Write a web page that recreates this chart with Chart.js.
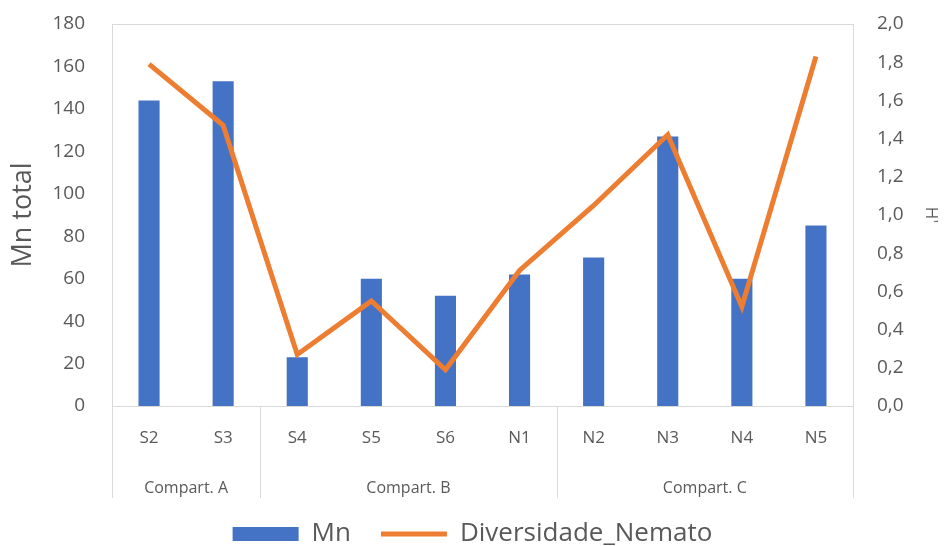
<!DOCTYPE html>
<html>
<head>
<meta charset="utf-8">
<script src="https://cdn.jsdelivr.net/npm/chart.js@4"></script>
<style>
  html, body { margin: 0; padding: 0; background: #fff; }
  #wrap { width: 945px; height: 546px; position: relative; }
</style>
</head>
<body>
<div id="wrap"><canvas id="mnChart"></canvas></div>
<script>
// Samples along the transect
const sampleLabels = ['S2', 'S3', 'S4', 'S5', 'S6', 'N1', 'N2', 'N3', 'N4', 'N5'];
// Compartments and how many samples each one covers
const compartLabels = ['Compart. A', 'Compart. B', 'Compart. C'];
const compartSizes = [2, 4, 4];
// Total manganese per sample
const mnValues = [144, 153, 23, 60, 52, 62, 70, 127, 60, 85];
// Nematode Shannon diversity (H')
const diversityValues = [1.79, 1.47, 0.27, 0.55, 0.19, 0.71, 1.05, 1.42, 0.52, 1.83];

const GRAY_TEXT = '#595959';
const GRAY_LINE = '#d9d9d9';
const FONT = '"Open Sans", sans-serif';

// Draws the plot frame plus the second row of x labels (compartments)
const compartAxis = {
  id: 'compartAxis',
  afterDraw(chart) {
    const { ctx, chartArea } = chart;
    const x = chart.scales.x;
    const step = x.getPixelForValue(1) - x.getPixelForValue(0);

    ctx.save();
    ctx.strokeStyle = GRAY_LINE;
    ctx.lineWidth = 1;
    ctx.strokeRect(chartArea.left + 0.5, chartArea.top + 0.5,
      chartArea.right - chartArea.left, chartArea.bottom - chartArea.top);

    const y0 = chartArea.bottom;
    const y1 = chartArea.bottom + 92;
    ctx.font = '16px ' + FONT;
    ctx.fillStyle = GRAY_TEXT;
    ctx.textAlign = 'center';
    ctx.textBaseline = 'middle';

    let start = 0;
    compartSizes.forEach((size, i) => {
      const left = x.getPixelForValue(start) - step / 2;
      const right = x.getPixelForValue(start + size - 1) + step / 2;
      ctx.beginPath();
      ctx.moveTo(Math.round(left) + 0.5, y0);
      ctx.lineTo(Math.round(left) + 0.5, y1);
      ctx.moveTo(Math.round(right) + 0.5, y0);
      ctx.lineTo(Math.round(right) + 0.5, y1);
      ctx.stroke();
      ctx.fillText(compartLabels[i], (left + right) / 2, y0 + 82);
      start += size;
    });
    ctx.restore();
  }
};

// The wide tick padding would otherwise push the plot top down
function fitVertical(width) {
  return scale => {
    scale.width = width;
    scale.paddingTop = 24;
    scale.paddingBottom = 12;
  };
}

new Chart(document.getElementById('mnChart'), {
  data: {
    labels: sampleLabels,
    datasets: [
      {
        type: 'line',
        label: 'Diversidade_Nemato',
        data: diversityValues,
        yAxisID: 'yH',
        borderColor: '#ED7D31',
        backgroundColor: '#ED7D31',
        borderWidth: 5,
        pointRadius: 0,
        pointStyle: 'line',
        tension: 0,
        order: 0
      },
      {
        type: 'bar',
        label: 'Mn',
        data: mnValues,
        yAxisID: 'y',
        backgroundColor: '#4472C4',
        borderWidth: 0,
        pointStyle: 'rect',
        categoryPercentage: 1,
        barPercentage: 0.285,
        order: 1
      }
    ]
  },
  options: {
    responsive: true,
    maintainAspectRatio: false,
    animation: false,
    layout: { padding: { top: 0, left: 0, right: 0, bottom: -11 } },
    plugins: {
      tooltip: { enabled: false },
      legend: {
        position: 'bottom',
        reverse: true,
        labels: {
          usePointStyle: true,
          pointStyleWidth: 66,
          boxHeight: 14,
          padding: 30,
          color: GRAY_TEXT,
          font: { family: FONT, size: 26 }
        }
      }
    },
    scales: {
      x: {
        grid: { display: false, drawTicks: false },
        border: { display: false },
        ticks: { color: GRAY_TEXT, padding: 22, font: { family: FONT, size: 17 } },
        afterFit(scale) { scale.height = 85; }
      },
      y: {
        position: 'left',
        min: 0,
        max: 180,
        grid: { display: false, drawTicks: false },
        border: { display: false },
        ticks: { stepSize: 20, color: GRAY_TEXT, padding: 27, font: { family: FONT, size: 19 } },
        title: {
          display: true,
          text: 'Mn total',
          color: GRAY_TEXT,
          padding: { top: 7, bottom: 0 },
          font: { family: FONT, size: 27 }
        },
        afterFit: fitVertical(112)
      },
      yH: {
        position: 'right',
        min: 0,
        max: 2,
        grid: { display: false, drawTicks: false },
        border: { display: false },
        ticks: {
          stepSize: 0.2,
          color: GRAY_TEXT,
          padding: 24,
          font: { family: FONT, size: 19 },
          callback: v => v.toFixed(1).replace('.', ',')
        },
        title: {
          display: true,
          text: "H'",
          color: GRAY_TEXT,
          padding: { top: 4, bottom: 0 },
          font: { family: FONT, size: 17 }
        },
        afterFit: fitVertical(92)
      }
    }
  },
  plugins: [compartAxis]
});
</script>
</body>
</html>
